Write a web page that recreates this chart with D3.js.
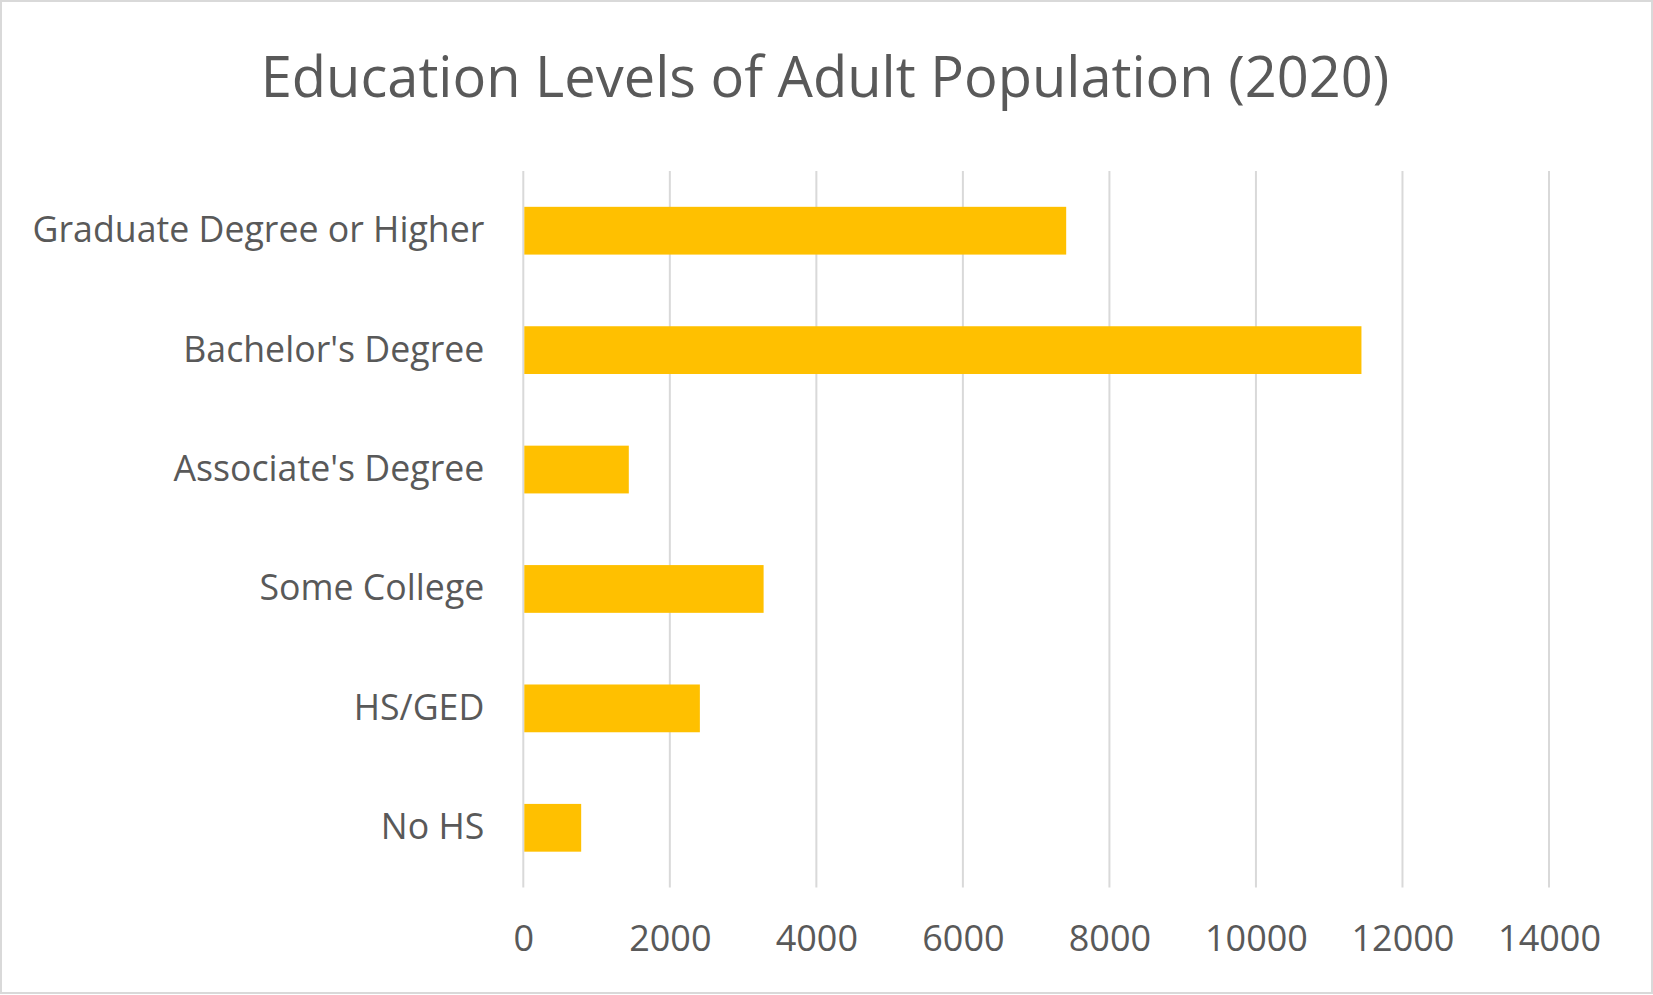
<!DOCTYPE html>
<html>
<head>
<meta charset="utf-8">
<script src="https://cdn.jsdelivr.net/npm/d3@7"></script>
<style>
  body { margin: 0; background: #ffffff; }
  text { font-family: "Open Sans", "Noto Sans", sans-serif; fill: #595959; }
</style>
</head>
<body>
<div id="bar-chart"></div>
<script>
// data
var categories = ["Graduate Degree or Higher", "Bachelor's Degree", "Associate's Degree", "Some College", "HS/GED", "No HS"]
var values = [7410, 11440, 1440, 3280, 2410, 790]
var xTicks = [0, 2000, 4000, 6000, 8000, 10000, 12000, 14000]
var title = "Education Levels of Adult Population (2020)"

var data = categories.map(function(c, i) { return {name: c, value: values[i]} })

var W = 1653, H = 995
var margin = {top: 171, right: 104, bottom: 107.5, left: 523.3},
    width = W - margin.left - margin.right,
    height = H - margin.top - margin.bottom

var gold = "#FFC000"
var grid = "#D9D9D9"

var svg = d3.select("#bar-chart")
  .append("svg")
    .attr("width", W)
    .attr("height", H)

// chart area border
svg.append("rect")
  .attr("x", 1).attr("y", 1)
  .attr("width", W - 2).attr("height", H - 3)
  .style("fill", "white")
  .style("stroke", grid)
  .style("stroke-width", 2)

// title
svg.append("text")
  .attr("x", 825)
  .attr("y", 97)
  .style("text-anchor", "middle")
  .style("font-size", "56px")
  .text(title)

var g = svg.append("g")
  .attr("transform", "translate(" + margin.left + "," + margin.top + ")")

// X axis
var x = d3.scaleLinear()
  .domain([0, 14000])
  .range([0, width])

// Y axis (categories)
var y = d3.scaleBand()
  .domain(categories)
  .range([0, height])
  .paddingInner(0.6)
  .paddingOuter(0.3)

// vertical gridlines
g.selectAll("gridLines")
  .data(xTicks)
  .enter()
  .append("line")
    .attr("x1", function(d) { return x(d) })
    .attr("x2", function(d) { return x(d) })
    .attr("y1", 0)
    .attr("y2", height)
    .style("stroke", grid)
    .style("stroke-width", 2)

// bars
g.selectAll("myBars")
  .data(data)
  .enter()
  .append("rect")
    .attr("x", x(0) + 1)
    .attr("y", function(d) { return y(d.name) })
    .attr("width", function(d) { return x(d.value) - x(0) - 1 })
    .attr("height", y.bandwidth())
    .style("fill", gold)

// x tick labels
var xAxis = g.append("g")
  .attr("transform", "translate(0," + height + ")")
  .call(d3.axisBottom(x).tickValues(xTicks).tickSize(0).tickPadding(38).tickFormat(d3.format("d")))
xAxis.select(".domain").remove()
xAxis.selectAll("text")
  .style("font-size", "36px")
  .style("fill", "#595959")
  .style("font-family", "'Open Sans', sans-serif")

// category labels
var yAxis = g.append("g")
  .call(d3.axisLeft(y).tickSize(0).tickPadding(39))
yAxis.select(".domain").remove()
yAxis.selectAll("text")
  .style("font-size", "35.7px")
  .style("fill", "#595959")
  .style("font-family", "'Open Sans', sans-serif")
</script>
</body>
</html>
